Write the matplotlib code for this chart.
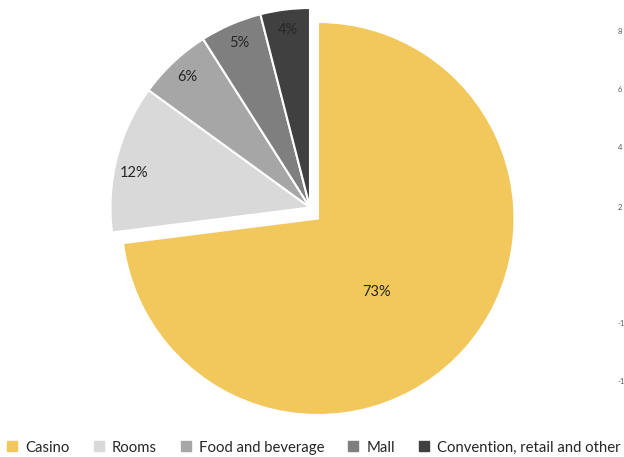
import matplotlib.pyplot as plt
from matplotlib.lines import Line2D

plt.rcParams['font.family'] = ['Lato', 'DejaVu Sans']

# Données
segments = ['Casino', 'Rooms', 'Food and beverage', 'Mall', 'Convention, retail and other']
shares = [73, 12, 6, 5, 4]
colors = ['#F2C75C', '#D9D9D9', '#A6A6A6', '#7F7F7F', '#404040']

# restes d'axe coupés au bord droit
edge_labels = ['8', '6', '4', '2', '-1', '-1']
edge_y = [31, 90, 148, 207, 323, 381]

fig = plt.figure(figsize=(6.24, 4.57), dpi=100)
ax = fig.add_axes([0, 0, 1, 1])

center = (318, 238.5)
radius = 196.5
wedges, texts, autotexts = ax.pie(
    shares, colors=colors, startangle=90, counterclock=False,
    center=center, radius=radius, autopct='%d%%', pctdistance=0.91,
    wedgeprops=dict(edgecolor='white', linewidth=1.5),
    textprops=dict(fontsize=10.5, color='#262626'))
ax.set_xlim(0, 624)
ax.set_ylim(0, 457)
ax.set_aspect('equal')
ax.axis('off')

# les petites parts sont décalées ensemble vers le haut à gauche
shift = (-8, 11)
new_center = (center[0] + shift[0], center[1] + shift[1])
for w, t in zip(wedges[1:], autotexts[1:]):
    w.set_center(new_center)
    w.set_radius(radius + 3)
    x, y = t.get_position()
    t.set_position((x + shift[0], y + shift[1]))

# étiquettes placées comme dans l'original
autotexts[0].set_position((center[0] + 59, center[1] - 74))
x, y = autotexts[1].get_position()
autotexts[1].set_position((x - 3, y - 10))

for lab, yy in zip(edge_labels, edge_y):
    fig.text(618 / 624, 1 - yy / 457, lab, fontsize=5.5, color='#595959', va='center', ha='left')

handles = [Line2D([], [], marker='s', linestyle='', markersize=7, color=c) for c in colors]
fig.legend(handles, segments, loc='lower left', bbox_to_anchor=(-0.016, -0.024), ncol=5, frameon=False,
           fontsize=10.7, handletextpad=0.3, columnspacing=1.33, handlelength=1.2, labelcolor='#262626')

plt.savefig('out.png', dpi=100)
